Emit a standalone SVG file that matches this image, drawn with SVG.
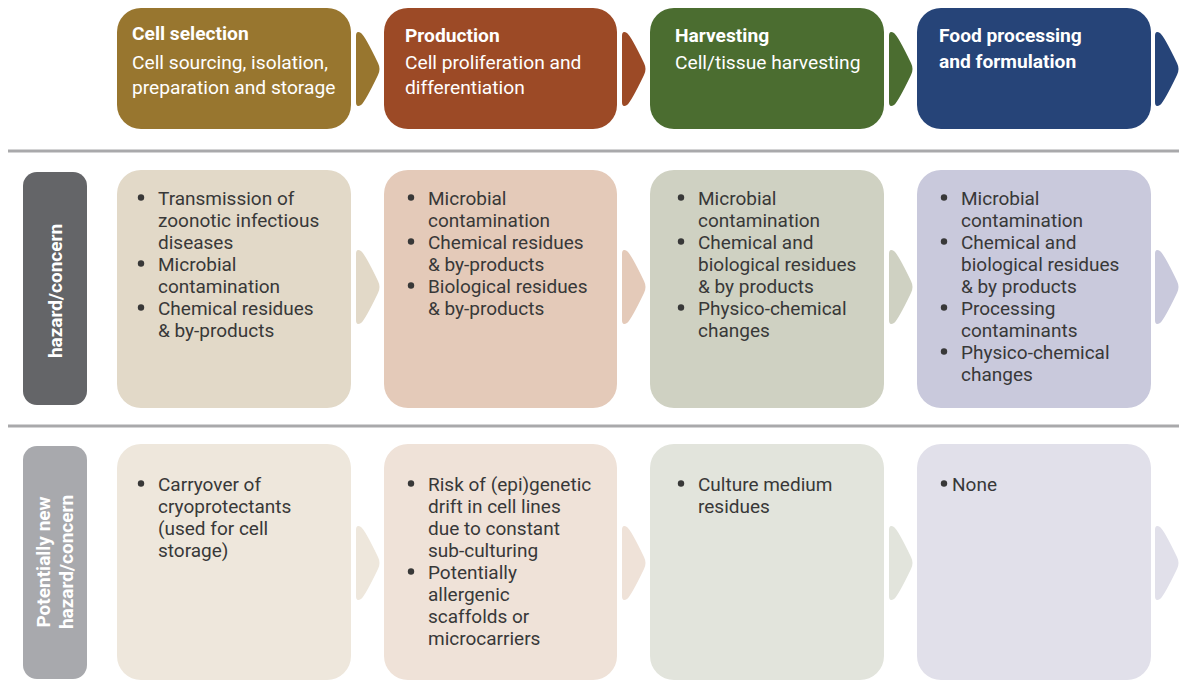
<svg xmlns="http://www.w3.org/2000/svg" width="1179" height="695" viewBox="0 0 1179 695">
<style>
text{font-family:Roboto,"Liberation Sans",sans-serif}
.ht{font-size:19.2px;fill:#ffffff}
.hb{font-weight:bold}
.bt{font-size:19px;fill:#383838}
.bl{fill:#383838}
.lb{font-size:19px;font-weight:bold;fill:#ffffff}
.sep{stroke:#a9a9ab;stroke-width:3}
</style>
<defs>
<path id="arr" d="M0,6 Q0,0 5,3 Q9,6 22,33 Q25,39 22,45 Q9,72 5,75 Q0,78 0,72 Z"/>
<circle id="dot" r="3.2"/>
</defs>
<rect width="1179" height="695" fill="#ffffff"/>
<g id="separators">
<line class="sep" x1="8" y1="151" x2="1179" y2="151"/>
<line class="sep" x1="8" y1="426" x2="1179" y2="426"/>
</g>
<g id="connectors">
<use href="#arr" x="356" y="30" fill="#98762f"/>
<use href="#arr" x="622" y="30" fill="#9c4a26"/>
<use href="#arr" x="889" y="30" fill="#4b6d30"/>
<use href="#arr" x="1155" y="30" fill="#264478"/>
<use href="#arr" x="356" y="248" fill="#e2d9c8"/>
<use href="#arr" x="622" y="248" fill="#e4cab9"/>
<use href="#arr" x="889" y="248" fill="#cfd1c2"/>
<use href="#arr" x="1155" y="248" fill="#c9c9dc"/>
<use href="#arr" x="356" y="524" fill="#eee7dc"/>
<use href="#arr" x="622" y="524" fill="#efe2d8"/>
<use href="#arr" x="889" y="524" fill="#e2e4dc"/>
<use href="#arr" x="1155" y="524" fill="#e1e0ea"/>
</g>
<g id="header-cell-selection">
<rect x="117" y="8" width="234" height="121" rx="24" fill="#98762f"/>
<text class="ht hb" x="132" y="40">Cell selection</text>
<text class="ht" x="132" y="69">Cell sourcing, isolation,</text>
<text class="ht" x="132" y="94">preparation and storage</text>
</g>
<g id="header-production">
<rect x="384" y="8" width="233" height="121" rx="24" fill="#9c4a26"/>
<text class="ht hb" x="405" y="42">Production</text>
<text class="ht" x="405" y="69">Cell proliferation and</text>
<text class="ht" x="405" y="94">differentiation</text>
</g>
<g id="header-harvesting">
<rect x="650" y="8" width="234" height="121" rx="24" fill="#4b6d30"/>
<text class="ht hb" x="675" y="42">Harvesting</text>
<text class="ht" x="675" y="69">Cell/tissue harvesting</text>
</g>
<g id="header-food-processing">
<rect x="917" y="8" width="234" height="121" rx="24" fill="#264478"/>
<text class="ht hb" x="939" y="42">Food processing</text>
<text class="ht hb" x="939" y="68">and formulation</text>
</g>
<g id="label-hazard">
<rect x="23" y="172" width="64" height="233" rx="14" fill="#646568"/>
<text class="lb" transform="translate(62,291) rotate(-90)" text-anchor="middle">hazard/concern</text>
</g>
<g id="label-new-hazard">
<rect x="23" y="446" width="64" height="233" rx="14" fill="#a8a9ad"/>
<text class="lb" transform="translate(50,562) rotate(-90)" text-anchor="middle">Potentially new</text>
<text class="lb" transform="translate(73,562) rotate(-90)" text-anchor="middle">hazard/concern</text>
</g>
<g id="hazard-cell-selection">
<rect x="117" y="170" width="234" height="238" rx="24" fill="#e2d9c8"/>
<g class="bl"><use href="#dot" x="141" y="197.5"/><use href="#dot" x="141" y="263.5"/><use href="#dot" x="141" y="307.5"/></g>
<g class="bt">
<text x="158" y="204.5">Transmission of</text>
<text x="158" y="226.5">zoonotic infectious</text>
<text x="158" y="248.5">diseases</text>
<text x="158" y="270.5">Microbial</text>
<text x="158" y="292.5">contamination</text>
<text x="158" y="314.5">Chemical residues</text>
<text x="158" y="336.5">&amp; by-products</text>
</g>
</g>
<g id="hazard-production">
<rect x="384" y="170" width="233" height="238" rx="24" fill="#e4cab9"/>
<g class="bl"><use href="#dot" x="411" y="197.5"/><use href="#dot" x="411" y="241.5"/><use href="#dot" x="411" y="285.5"/></g>
<g class="bt">
<text x="428" y="204.5">Microbial</text>
<text x="428" y="226.5">contamination</text>
<text x="428" y="248.5">Chemical residues</text>
<text x="428" y="270.5">&amp; by-products</text>
<text x="428" y="292.5">Biological residues</text>
<text x="428" y="314.5">&amp; by-products</text>
</g>
</g>
<g id="hazard-harvesting">
<rect x="650" y="170" width="234" height="238" rx="24" fill="#cfd1c2"/>
<g class="bl"><use href="#dot" x="681" y="197.5"/><use href="#dot" x="681" y="241.5"/><use href="#dot" x="681" y="307.5"/></g>
<g class="bt">
<text x="698" y="204.5">Microbial</text>
<text x="698" y="226.5">contamination</text>
<text x="698" y="248.5">Chemical and</text>
<text x="698" y="270.5">biological residues</text>
<text x="698" y="292.5">&amp; by products</text>
<text x="698" y="314.5">Physico-chemical</text>
<text x="698" y="336.5">changes</text>
</g>
</g>
<g id="hazard-food-processing">
<rect x="917" y="170" width="234" height="238" rx="24" fill="#c9c9dc"/>
<g class="bl"><use href="#dot" x="944" y="197.5"/><use href="#dot" x="944" y="241.5"/><use href="#dot" x="944" y="307.5"/><use href="#dot" x="944" y="351.5"/></g>
<g class="bt">
<text x="961" y="204.5">Microbial</text>
<text x="961" y="226.5">contamination</text>
<text x="961" y="248.5">Chemical and</text>
<text x="961" y="270.5">biological residues</text>
<text x="961" y="292.5">&amp; by products</text>
<text x="961" y="314.5">Processing</text>
<text x="961" y="336.5">contaminants</text>
<text x="961" y="358.5">Physico-chemical</text>
<text x="961" y="380.5">changes</text>
</g>
</g>
<g id="new-cell-selection">
<rect x="117" y="444" width="234" height="236" rx="24" fill="#eee7dc"/>
<g class="bl"><use href="#dot" x="141" y="483.5"/></g>
<g class="bt">
<text x="158" y="490.5">Carryover of</text>
<text x="158" y="512.5">cryoprotectants</text>
<text x="158" y="534.5">(used for cell</text>
<text x="158" y="556.5">storage)</text>
</g>
</g>
<g id="new-production">
<rect x="384" y="444" width="233" height="236" rx="24" fill="#efe2d8"/>
<g class="bl"><use href="#dot" x="411" y="483.5"/><use href="#dot" x="411" y="571.5"/></g>
<g class="bt">
<text x="428" y="490.5">Risk of (epi)genetic</text>
<text x="428" y="512.5">drift in cell lines</text>
<text x="428" y="534.5">due to constant</text>
<text x="428" y="556.5">sub-culturing</text>
<text x="428" y="578.5">Potentially</text>
<text x="428" y="600.5">allergenic</text>
<text x="428" y="622.5">scaffolds or</text>
<text x="428" y="644.5">microcarriers</text>
</g>
</g>
<g id="new-harvesting">
<rect x="650" y="444" width="234" height="236" rx="24" fill="#e2e4dc"/>
<g class="bl"><use href="#dot" x="681" y="483.5"/></g>
<g class="bt">
<text x="698" y="490.5">Culture medium</text>
<text x="698" y="512.5">residues</text>
</g>
</g>
<g id="new-food-processing">
<rect x="917" y="444" width="234" height="236" rx="24" fill="#e1e0ea"/>
<g class="bl"><use href="#dot" x="944" y="483.5"/></g>
<g class="bt">
<text x="952" y="490.5">None</text>
</g>
</g>
</svg>
